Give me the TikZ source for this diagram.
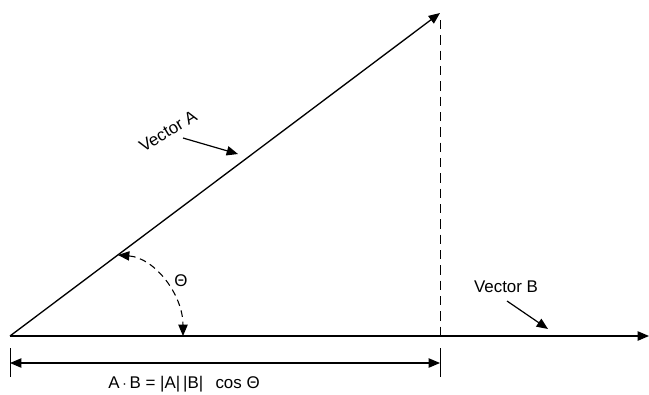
\documentclass[tikz,border=0pt]{standalone}
\usepackage{fontspec}
\setmainfont{Liberation Sans}
\usetikzlibrary{arrows.meta}

\begin{document}
\begin{tikzpicture}[x=0.75pt,y=-0.75pt,>={Triangle[length=8.5pt,width=7pt]},
    vec/.style={line width=1pt,->},
    pointer/.style={line width=0.9pt,->},
    label/.style={font=\fontsize{12.7}{15}\selectfont,inner sep=1pt}]
  \useasboundingbox (0,0) rectangle (649,394);
  % vectors
  \coordinate (O) at (10,336);
  \coordinate (tipA) at (440,13);
  \coordinate (tipB) at (649,336);
  \coordinate (foot) at (440,336);
  \draw[vec] (O) -- (tipA);
  \draw[vec] (O) -- (tipB);
  \draw[line width=0.6pt,dash pattern=on 7pt off 4.5pt] (440,20) -- (foot);
  % angle
  \coordinate (angA) at (118,255);
  \coordinate (angB) at (183,336);
  \draw[line width=0.8pt,dash pattern=on 5pt off 3.5pt,<->] (angA) .. controls (155,258) and (183,295) .. (angB);
  \node[label] (theta) at (181,281) {Θ};
  % labels
  \node[label,rotate=31] (labA) at (168,131) {Vector A};
  \draw[pointer] (183,138) -- (238,154);
  \node[label] (labB) at (506,287) {Vector B};
  \draw[pointer] (507,301) -- (548,329);
  % dimension line
  \coordinate (dimL) at (10,363);
  \coordinate (dimR) at (440,363);
  \draw[line width=0.7pt] (10,348) -- (10,377);
  \draw[line width=0.7pt] (440,348) -- (440,377);
  \draw[line width=0.8pt,<->] (dimL) -- (dimR);
  \node[label] (dot) at (184,384) {A\,$\cdot$\,B = |A|\,|B|\,\ \ cos Θ};
\end{tikzpicture}
\end{document}
